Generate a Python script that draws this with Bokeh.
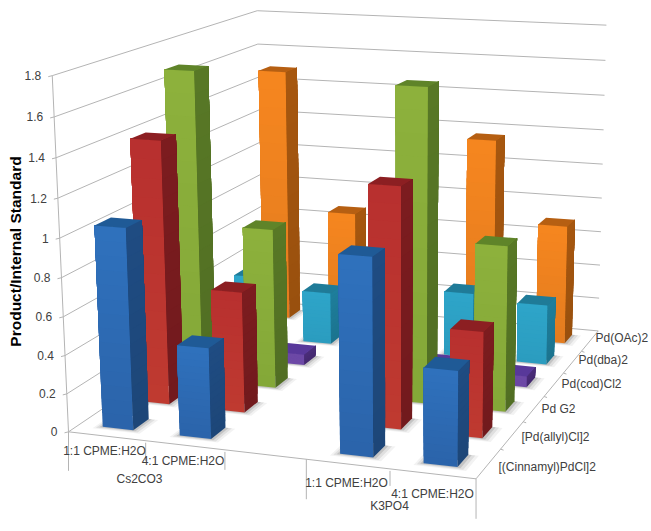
import numpy as np
from bokeh.plotting import figure
from bokeh.models import ColumnDataSource
from bokeh.core.properties import value
from bokeh.embed import file_html
from bokeh.resources import INLINE

# ---------- data ----------
base_groups = ["Cs2CO3", "K3PO4"]
solvents = ["1:1 CPME:H2O", "4:1 CPME:H2O", "", "1:1 CPME:H2O", "4:1 CPME:H2O"]
catalysts = ["[(Cinnamyl)PdCl]2", "[Pd(allyl)Cl]2", "Pd G2", "Pd(cod)Cl2", "Pd(dba)2", "Pd(OAc)2"]
y_ticks = [0, 0.2, 0.4, 0.6, 0.8, 1, 1.2, 1.4, 1.6, 1.8]
y_title = "Product/Internal Standard"
cinnamyl = [1.045, 0.47, None, 1.0, 0.48]
allyl = [1.40, 0.64, None, 1.25, 0.55]
pd_g2 = [1.69, 0.87, None, 1.67, 0.88]
cod = [0.0, 0.06, None, 0.08, 0.06]
dba = [0.36, 0.30, None, 0.37, 0.34]
oac = [1.49, 0.67, None, 1.16, 0.69]
series = [cinnamyl, allyl, pd_g2, cod, dba, oac]
# front (top of bar), front (bottom of bar), side, top
palette = [
    ("#2f72bd", "#2b63aa", "#1f4c82", "#1f5a96"),
    ("#b8302f", "#bf3a30", "#7c1c1f", "#8c1f22"),
    ("#8db13c", "#84a838", "#587826", "#5f8429"),
    ("#6d49a6", "#6d49a6", "#4b2e7a", "#58389a"),
    ("#2ea5c9", "#2b9cbf", "#1e7e9b", "#1f7b98"),
    ("#f6861f", "#e37c1f", "#a6570f", "#b65f12"),
]
TEXT = "#404040"
GRID = "#b4b4b4"

# ---------- camera: cube (cat, depth, value/1.8) to window pixels ----------
cal = [((0, 0, 0), (66.7, 426.7)), ((1, 0, 0), (476.7, 481.7)), ((1, 1, 0), (597, 326.7)),
       ((0, 1, 0), (263, 305)), ((0, 0, 1), (52, 76.7)), ((0, 1, 1), (256.7, 8)), ((1, 1, 1), (605.7, 25.7))]
A, b = [], []
for (X, Y, Z), (u, v) in cal:
    A.append([X, Y, Z, 1, 0, 0, 0, 0, -u * X, -u * Y, -u * Z]); b.append(u)
    A.append([0, 0, 0, 0, X, Y, Z, 1, -v * X, -v * Y, -v * Z]); b.append(v)
P = np.append(np.linalg.lstsq(np.array(A, float), np.array(b, float), rcond=None)[0], 1).reshape(3, 4)

def proj(i, j, val):
    """i in categories, j in series, val in chart units."""
    w = P @ np.array([i / len(solvents), j / len(catalysts), val / y_ticks[-1], 1.0])
    return w[0] / w[2], w[1] / w[2]

p = figure(width=651, height=531, x_range=(0, 651), y_range=(531, 0), output_backend="svg",
           toolbar_location=None, min_border=0, outline_line_color=None)
p.axis.visible = False
p.grid.visible = False

def seg(a, b, w=1.0):
    p.line([a[0], b[0]], [a[1], b[1]], line_color=GRID, line_width=w)

nc, ns = len(solvents), len(catalysts)
for v in y_ticks:
    seg(proj(0, 0, v), proj(0, ns, v))
    seg(proj(0, ns, v), proj(nc, ns, v))
    f = proj(0, 0, v)
    seg((f[0] - 4, f[1] + 1), f)
seg(proj(0, 0, 0), proj(0, 0, y_ticks[-1]))
seg(proj(0, 0, 0), proj(nc, 0, 0))
seg(proj(nc, 0, 0), proj(nc, ns, 0))
for j in range(1, ns):
    a = proj(nc, j, 0)
    seg(a, (a[0] + 3, a[1] + 1))
drop = [39, 20, 20, 40, 17, 40]
for i, d in enumerate(drop):
    a = proj(i, 0, 0)
    seg((a[0], a[1] + (0 if d > 30 else 2)), (a[0], a[1] + d))

# ---------- bars ----------
BW, BD = 0.40, 0.42
sh = dict(xs=[], ys=[], a=[])
faces = dict(xs=[], ys=[], c=[])

def quad(pts, col):
    faces["xs"].append([q[0] for q in pts]); faces["ys"].append([q[1] for q in pts]); faces["c"].append(col)

def mix(c1, c2, t):
    a = [int(c1[k:k + 2], 16) for k in (1, 3, 5)]
    b_ = [int(c2[k:k + 2], 16) for k in (1, 3, 5)]
    return "#%02x%02x%02x" % tuple(int(round(x + (y - x) * t)) for x, y in zip(a, b_))

for j in range(ns - 1, -1, -1):
    for i in range(nc):
        val = series[j][i]
        if val is None or val <= 0:
            continue
        i0, i1 = i + .5 - BW / 2, i + .5 + BW / 2
        j0, j1 = j + .5 - BD / 2, j + .5 + BD / 2
        for e, al in ((0.09, .05), (0.06, .08), (0.03, .12)):
            pts = [proj(i0 - e, j0 - e, 0), proj(i1 + e * 1.4, j0 - e, 0),
                   proj(i1 + e * 1.4, j1, 0), proj(i0 - e, j1, 0)]
            sh["xs"].append([q[0] for q in pts]); sh["ys"].append([q[1] for q in pts]); sh["a"].append(al)
        ft, fb, sd, tp = palette[j]
        n = 14
        for k in range(n):
            v0 = val * k / n
            t = (k + .5) / n
            quad([proj(i0, j0, v0), proj(i1, j0, v0), proj(i1, j0, val), proj(i0, j0, val)], mix(fb, ft, t))
            quad([proj(i1, j0, v0), proj(i1, j1, v0), proj(i1, j1, val), proj(i1, j0, val)], mix(mix(sd, "#000000", .08), sd, t))
        quad([proj(i0, j0, val), proj(i1, j0, val), proj(i1, j1, val), proj(i0, j1, val)], tp)

p.patches("xs", "ys", source=ColumnDataSource(sh), fill_color="#000000", fill_alpha="a", line_color=None)
p.patches("xs", "ys", source=ColumnDataSource(faces), fill_color="c", line_color=None)

# ---------- texts ----------
font = value("Liberation Sans")
ty = [proj(0, 0, v) for v in y_ticks]
p.text([q[0] - 11 for q in ty], [q[1] for q in ty], text=[str(v) for v in y_ticks], text_font=font,
       text_font_size="12px", text_color=TEXT, text_align="right", text_baseline="middle")
p.text([15], [251], text=[y_title], text_font=font, text_font_size="15.5px", text_font_style="bold",
       text_color="#000000", text_align="center", text_baseline="middle", angle=[np.pi / 2])
cat_x = [104, 182.5, None, 346, 432]
cat_y = [450, 460, None, 482, 493]
keep = [k for k in range(nc) if solvents[k]]
p.text([cat_x[k] for k in keep], [cat_y[k] for k in keep], text=[solvents[k] for k in keep], text_font=font,
       text_font_size="12px", text_color=TEXT, text_align="center", text_baseline="middle")
p.text([139, 389], [478, 505], text=base_groups, text_font=font, text_font_size="12px", text_color=TEXT,
       text_align="center", text_baseline="middle")
dl_x = [498, 521, 541, 561, 578, 595]
dl_y = [466, 436, 408, 383, 359, 337]
p.text(dl_x, dl_y, text=catalysts, text_font=font, text_font_size="12px", text_color=TEXT,
       text_align="left", text_baseline="middle")

open("out.html", "w").write(file_html(p, INLINE))
